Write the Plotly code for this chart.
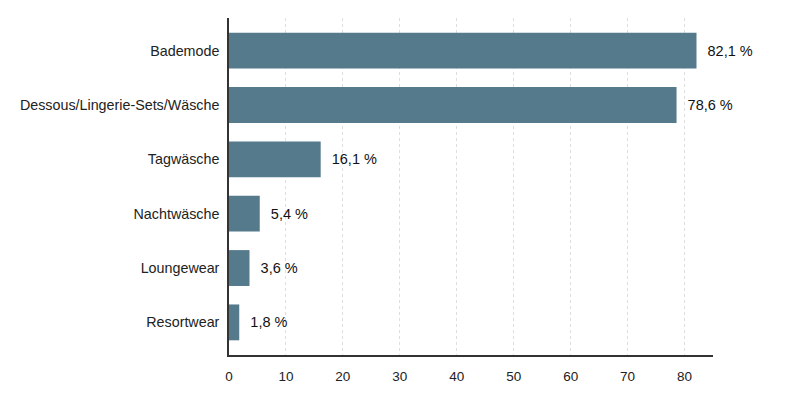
import plotly.graph_objects as go

categories = ["Bademode", "Dessous/Lingerie-Sets/Wäsche", "Tagwäsche",
              "Nachtwäsche", "Loungewear", "Resortwear"]
values = [82.1, 78.6, 16.1, 5.4, 3.6, 1.8]
tick_vals = [0, 10, 20, 30, 40, 50, 60, 70, 80]

fig = go.Figure()
fig.add_trace(go.Bar(
    x=values, y=categories, orientation="h",
    marker=dict(color="#557a8c", line=dict(width=0)),
    width=0.66,
    texttemplate="  %{x:.1f} %", textposition="outside",
    textfont=dict(size=14.5, color="#111111"),
    cliponaxis=False,
))

# page body adds ~8px offset, margins compensate for it
fig.update_layout(
    width=800, height=400,
    margin=dict(l=221, r=95, t=10, b=53),
    plot_bgcolor="white", paper_bgcolor="white",
    separators=",.",
    font=dict(family="Liberation Sans, Arial", size=13, color="#222222"),
    showlegend=False,
)
fig.update_xaxes(
    range=[0, 85], tickvals=tick_vals, showgrid=True,
    gridcolor="#dddddd", griddash="3px,3px", gridwidth=1,
    showline=True, linecolor="#333333", linewidth=1.5,
    zeroline=False, ticks="", ticklabelstandoff=8,
    tickfont=dict(size=13.5), automargin=False,
)
fig.update_yaxes(
    range=[len(categories) - 0.4, -0.6], showline=True,
    linecolor="#333333", linewidth=1.5,
    ticks="", ticklabelstandoff=5, tickfont=dict(size=14.3), showgrid=False,
    automargin=False,
)

fig.write_html("out.html")
